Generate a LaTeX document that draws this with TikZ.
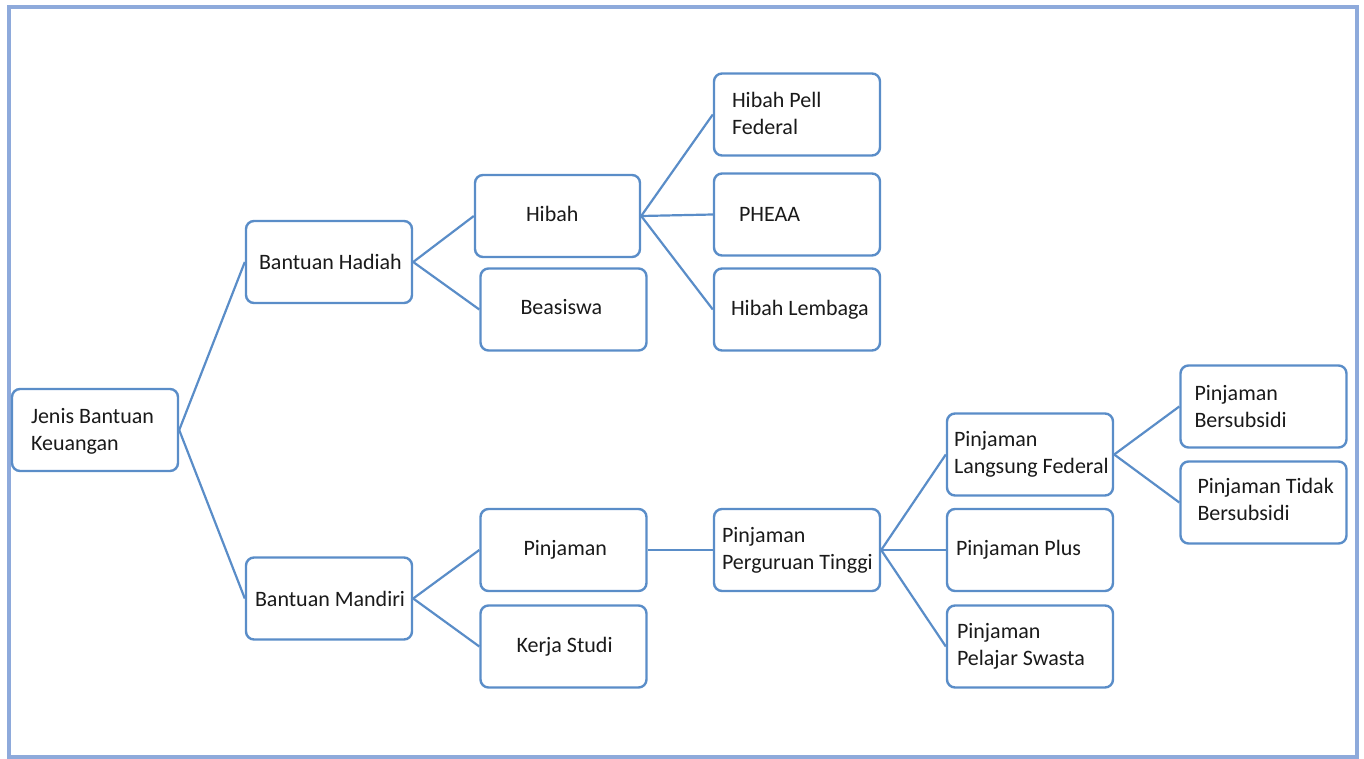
\documentclass[tikz,border=0pt]{standalone}
\usepackage{fontspec}
\setmainfont{Carlito}
\usepackage{tikz}

\definecolor{garis}{HTML}{5A8DC8}
\definecolor{tepi}{HTML}{8EAADB}
\definecolor{tinta}{HTML}{1A1A1A}

\tikzset{
  kotak/.style={draw=garis, line width=2.4pt, rounded corners=8pt, fill=white,
    minimum width=166pt, minimum height=82pt, inner sep=0pt},
  teks/.style={anchor=west, inner sep=0pt, align=left, text=tinta,
    font=\fontsize{22}{27}\selectfont},
  cabang/.style={draw=garis, line width=2.2pt}
}

\begin{document}
\begin{tikzpicture}[x=1pt,y=-1pt]
    \useasboundingbox (0,0) rectangle (1364,759);
    \draw[tepi, line width=4pt] (9,7) rectangle (1357,757);

    % kotak-kotak
    \node[kotak] (jenis) at (95,430) {};
    \node[kotak] (hadiah) at (329,262) {};
    \node[kotak] (mandiri) at (329,598.5) {};
    \node[kotak, minimum width=165pt] (hibah) at (557.5,216) {};
    \node[kotak] (beasiswa) at (563.5,309.5) {};
    \node[kotak] (pinjaman) at (563.5,550) {};
    \node[kotak] (kerja) at (563.5,646.5) {};
    \node[kotak] (pell) at (797,114.5) {};
    \node[kotak] (pheaa) at (797,214.5) {};
    \node[kotak] (lembaga) at (797,309.5) {};
    \node[kotak] (tinggi) at (797,550) {};
    \node[kotak] (langsung) at (1030,454.5) {};
    \node[kotak] (plus) at (1030,550) {};
    \node[kotak] (swasta) at (1030,646.5) {};
    \node[kotak] (subsidi) at (1263.5,406.5) {};
    \node[kotak] (tidak) at (1263.5,502.5) {};

    % tulisan
    \node[teks] (t-jenis) at ([xshift=20pt,yshift=-1pt]jenis.west) {Jenis Bantuan\\Keuangan};
    \node[teks] (t-hadiah) at ([xshift=14pt]hadiah.west) {Bantuan Hadiah};
    \node[teks] (t-mandiri) at ([xshift=10pt]mandiri.west) {Bantuan Mandiri};
    \node[teks] (t-hibah) at ([xshift=52pt,yshift=2pt]hibah.west) {Hibah};
    \node[teks] (t-beasiswa) at ([xshift=41pt,yshift=2pt]beasiswa.west) {Beasiswa};
    \node[teks] (t-pinjaman) at ([xshift=44pt]pinjaman.west) {Pinjaman};
    \node[teks] (t-kerja) at ([xshift=37pt]kerja.west) {Kerja Studi};
    \node[teks] (t-pell) at ([xshift=19pt,yshift=1pt]pell.west) {Hibah Pell\\Federal};
    \node[teks] (t-pheaa) at ([xshift=26pt]pheaa.west) {PHEAA};
    \node[teks] (t-lembaga) at ([xshift=18pt]lembaga.west) {Hibah Lembaga};
    \node[teks] (t-tinggi) at ([xshift=9pt]tinggi.west) {Pinjaman\\Perguruan Tinggi};
    \node[teks] (t-langsung) at ([xshift=8pt]langsung.west) {Pinjaman\\Langsung Federal};
    \node[teks] (t-plus) at ([xshift=10pt]plus.west) {Pinjaman Plus};
    \node[teks] (t-swasta) at ([xshift=11pt]swasta.west) {Pinjaman\\Pelajar Swasta};
    \node[teks] (t-subsidi) at ([xshift=15pt]subsidi.west) {Pinjaman\\Bersubsidi};
    \node[teks] (t-tidak) at ([xshift=18pt,yshift=3pt]tidak.west) {Pinjaman Tidak\\Bersubsidi};

    % garis cabang
    \draw[cabang] (jenis.east) -- (hadiah.west);
    \draw[cabang] (jenis.east) -- (mandiri.west);
    \draw[cabang] (hadiah.east) -- (hibah.west);
    \draw[cabang] (hadiah.east) -- (beasiswa.west);
    \draw[cabang] (mandiri.east) -- (pinjaman.west);
    \draw[cabang] (mandiri.east) -- (kerja.west);
    \draw[cabang] (hibah.east) -- (pell.west);
    \draw[cabang] (hibah.east) -- (pheaa.west);
    \draw[cabang] (hibah.east) -- (lembaga.west);
    \draw[cabang] (pinjaman.east) -- (tinggi.west);
    \draw[cabang] (tinggi.east) -- (langsung.west);
    \draw[cabang] (tinggi.east) -- (plus.west);
    \draw[cabang] (tinggi.east) -- (swasta.west);
    \draw[cabang] (langsung.east) -- (subsidi.west);
    \draw[cabang] (langsung.east) -- (tidak.west);
\end{tikzpicture}
\end{document}
